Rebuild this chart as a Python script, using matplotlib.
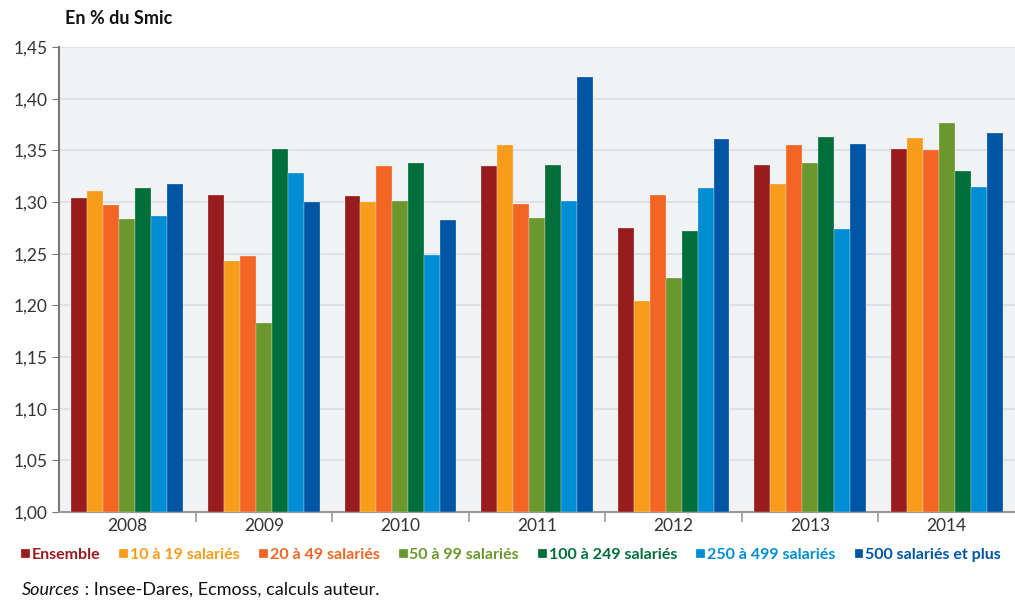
import numpy as np
import matplotlib
matplotlib.use("Agg")
import matplotlib.pyplot as plt
from matplotlib.ticker import FuncFormatter, FixedLocator

plt.rcParams['font.family'] = ['Lato', 'DejaVu Sans']

years = ['2008', '2009', '2010', '2011', '2012', '2013', '2014']
series = ['Ensemble', '10 à 19 salariés', '20 à 49 salariés', '50 à 99 salariés',
          '100 à 249 salariés', '250 à 499 salariés', '500 salariés et plus']
colors = ['#981b1e', '#f89c1c', '#f26522', '#6a982e', '#006f3a', '#008dd4', '#0055a5']

ensemble = [1.304, 1.307, 1.306, 1.335, 1.275, 1.336, 1.351]
s10_19 = [1.311, 1.243, 1.300, 1.355, 1.204, 1.317, 1.362]
s20_49 = [1.297, 1.248, 1.335, 1.298, 1.307, 1.355, 1.350]
s50_99 = [1.284, 1.183, 1.301, 1.285, 1.226, 1.338, 1.376]
s100_249 = [1.314, 1.351, 1.338, 1.336, 1.272, 1.363, 1.330]
s250_499 = [1.286, 1.328, 1.249, 1.301, 1.314, 1.274, 1.315]
s500 = [1.317, 1.300, 1.283, 1.421, 1.361, 1.356, 1.367]
values = [ensemble, s10_19, s20_49, s50_99, s100_249, s250_499, s500]

fig = plt.figure(figsize=(10.15, 6), dpi=100)
ax = fig.add_axes([59 / 1015, 1 - 512 / 600, (1015 - 59) / 1015, (512 - 47) / 600])
ax.set_facecolor('#f1f2f4')

x = np.arange(len(years))
w = 0.117
handles = []
for i, (name, vals, c) in enumerate(zip(series, values, colors)):
    b = ax.bar(x + (i - 3) * w, np.array(vals) - 1.0, width=w, bottom=1.0,
               color=c, edgecolor='#f4f4f4', linewidth=0.2, label=name, zorder=3)
    handles.append(b)

ax.set_xlim(-0.5, len(years) - 0.5)
ax.set_ylim(1.0, 1.45)
ax.set_yticks(np.arange(1.0, 1.451, 0.05))
ax.yaxis.set_major_formatter(FuncFormatter(lambda v, p: f"{v:.2f}".replace('.', ',')))
ax.grid(axis='y', color='#dcdde0', linewidth=1.2, zorder=0)

ax.set_xticks(x)
ax.set_xticklabels(years)
ax.xaxis.set_minor_locator(FixedLocator(np.arange(0.5, len(years) - 0.5, 1)))
ax.tick_params(axis='x', which='major', length=0, labelsize=12.5, labelcolor='#333333', pad=4)
ax.tick_params(axis='x', which='minor', length=7, color='#999999', width=1.2)
ax.tick_params(axis='y', length=5, color='#777777', labelsize=12.5, labelcolor='#333333', pad=3)

for s in ['top', 'right']:
    ax.spines[s].set_visible(False)
ax.spines['left'].set_color('#777777')
ax.spines['left'].set_linewidth(1.5)
ax.spines['bottom'].set_color('#999999')
ax.spines['bottom'].set_linewidth(1.5)

fig.text(65 / 1015, 1 - 18 / 600, 'En % du Smic', fontsize=13, fontweight='bold',
         color='#111111', va='center', ha='left')

leg = fig.legend(handles=handles, labels=series, loc='center left',
                 bbox_to_anchor=(21 / 1015, 1 - 555 / 600), ncol=7, frameon=False,
                 handlelength=0.55, handleheight=0.55, handletextpad=0.12,
                 columnspacing=1.2, borderpad=0, borderaxespad=0,
                 prop={'weight': 'bold', 'size': 11.5})
for t, c in zip(leg.get_texts(), colors):
    t.set_color(c)

src = fig.text(22 / 1015, 1 - 590 / 600, 'Sources', fontsize=13, style='italic',
               color='#111111', va='center', ha='left')
rest = fig.text(0, 1 - 590 / 600, ' : Insee-Dares, Ecmoss, calculs auteur.', fontsize=13,
                color='#111111', va='center', ha='left')
fig.canvas.draw()
bb = src.get_window_extent().transformed(fig.transFigure.inverted())
rest.set_position((bb.x1, 1 - 590 / 600))

fig.savefig('out.png', dpi=100)
